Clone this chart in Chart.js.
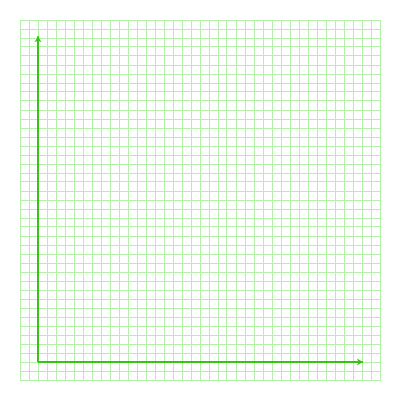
<!DOCTYPE html>
<html>
<head>
<meta charset="utf-8">
<script src="https://cdn.jsdelivr.net/npm/chart.js@4/dist/chart.umd.min.js"></script>
<style>
  html, body { margin: 0; padding: 0; background: #fff; }
  #wrap { width: 400px; height: 400px; }
</style>
</head>
<body>
<div id="wrap"><canvas id="paper" width="400" height="400"></canvas></div>
<script>
// graph paper: 40 x 40 cells
const gridMin = 0;
const gridMax = 40;
// the two axis arrows, in grid units
const xAxisPoints = [{ x: 2, y: 2 }, { x: 38.1, y: 2 }];
const yAxisPoints = [{ x: 2, y: 2 }, { x: 2, y: 38.2 }];

const gridColor = '#b4f0aa';
const axisColor = '#36c414';

// small notched arrowhead at the last point of every dataset
const arrowHeads = {
    id: 'arrowHeads',
    afterDatasetsDraw(chart) {
        const c = chart.ctx;
        chart.data.datasets.forEach((ds, i) => {
            const pts = chart.getDatasetMeta(i).data;
            if (pts.length < 2) return;
            const a = pts[pts.length - 2], b = pts[pts.length - 1];
            const ang = Math.atan2(b.y - a.y, b.x - a.x);
            c.save();
            c.translate(b.x, b.y);
            c.rotate(ang);
            c.fillStyle = ds.borderColor;
            c.beginPath();
            c.moveTo(0, 0);
            c.lineTo(-6, -3.5);
            c.lineTo(-4.5, 0);
            c.lineTo(-6, 3.5);
            c.closePath();
            c.fill();
            c.restore();
        });
    }
};

const ctx = document.getElementById('paper').getContext('2d');
new Chart(ctx, {
    type: 'scatter',
    data: {
        datasets: [{
            data: xAxisPoints,
            showLine: true,
            borderColor: axisColor,
            borderWidth: 2,
            pointRadius: 0
        }, {
            data: yAxisPoints,
            showLine: true,
            borderColor: axisColor,
            borderWidth: 2,
            pointRadius: 0
        }]
    },
    options: {
        responsive: false,
        animation: false,
        layout: { padding: 20 },
        plugins: {
            legend: { display: false },
            tooltip: { enabled: false }
        },
        scales: {
            x: {
                type: 'linear',
                min: gridMin,
                max: gridMax,
                ticks: { display: false, stepSize: 1 },
                grid: { color: gridColor, lineWidth: 1, drawTicks: false },
                border: { color: gridColor }
            },
            y: {
                type: 'linear',
                min: gridMin,
                max: gridMax,
                ticks: { display: false, stepSize: 1 },
                grid: { color: gridColor, lineWidth: 1, drawTicks: false },
                border: { color: gridColor }
            }
        }
    },
    plugins: [arrowHeads]
});
</script>
</body>
</html>
